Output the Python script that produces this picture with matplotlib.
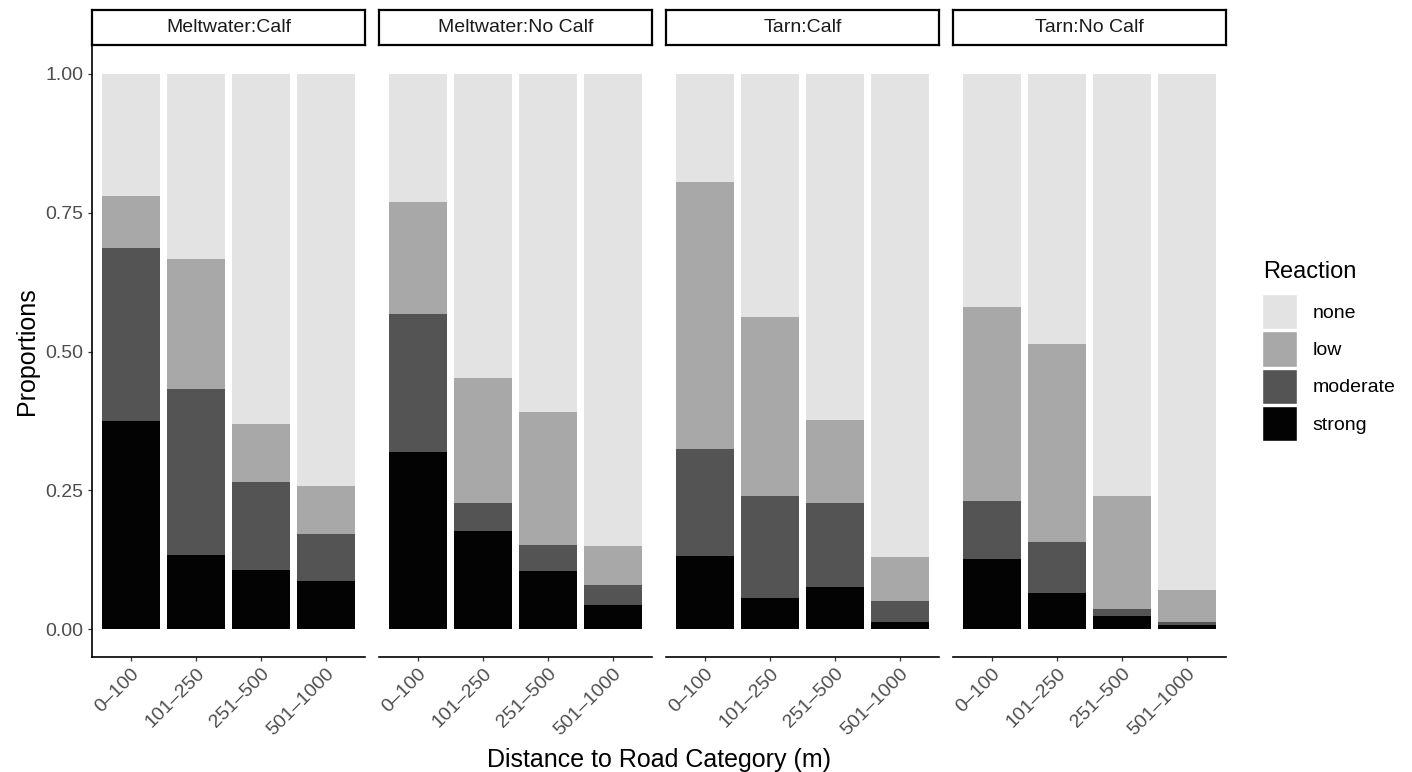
import matplotlib.pyplot as plt
from matplotlib.patches import Patch

plt.rcParams['font.family'] = ['Liberation Sans', 'DejaVu Sans']

# Data
panels = ['Meltwater:Calf', 'Meltwater:No Calf', 'Tarn:Calf', 'Tarn:No Calf']
distance = ['0–100', '101–250', '251–500', '501–1000']
levels = ['strong', 'moderate', 'low', 'none']

strong = [[0.375, 0.133, 0.106, 0.086],
          [0.319, 0.176, 0.105, 0.044],
          [0.132, 0.056, 0.075, 0.013],
          [0.127, 0.064, 0.024, 0.008]]
moderate = [[0.312, 0.300, 0.158, 0.085],
            [0.249, 0.051, 0.047, 0.035],
            [0.193, 0.184, 0.152, 0.038],
            [0.103, 0.092, 0.012, 0.0055]]
low = [[0.094, 0.233, 0.105, 0.086],
       [0.202, 0.226, 0.239, 0.071],
       [0.481, 0.323, 0.150, 0.078],
       [0.350, 0.358, 0.204, 0.0575]]
none = [[0.219, 0.334, 0.631, 0.743],
        [0.230, 0.547, 0.609, 0.850],
        [0.194, 0.437, 0.623, 0.871],
        [0.420, 0.486, 0.760, 0.929]]

colors = {'strong': '#030303', 'moderate': '#545454', 'low': '#a8a8a8', 'none': '#e3e3e3'}
series = {'strong': strong, 'moderate': moderate, 'low': low, 'none': none}

W, H = 1412, 772
fig = plt.figure(figsize=(W / 100, H / 100), dpi=100)

left0, pw, gap = 92, 273, 14
ax_top, ax_bot = 46.25, 656.75
strip_top, strip_bot = 10, 45

x = list(range(1, len(distance) + 1))
for i, name in enumerate(panels):
    left = left0 + i * (pw + gap)
    ax = fig.add_axes([left / W, 1 - ax_bot / H, pw / W, (ax_bot - ax_top) / H])
    bottom = [0.0] * len(distance)
    for lev in levels:
        vals = series[lev][i]
        ax.bar(x, vals, width=0.9, bottom=bottom, color=colors[lev], linewidth=0)
        bottom = [b + v for b, v in zip(bottom, vals)]
    ax.set_xlim(0.4, 4.6)
    ax.set_ylim(-0.05, 1.05)
    ax.set_xticks(x)
    ax.set_xticklabels(distance, rotation=45, ha='right', rotation_mode='anchor',
                       fontsize=14, color='#4d4d4d')
    for s in ['top', 'right']:
        ax.spines[s].set_visible(False)
    ax.spines['bottom'].set_linewidth(1.2)
    ax.tick_params(axis='x', length=3, width=0.9, color='#333333', pad=3)
    if i == 0:
        ax.spines['left'].set_linewidth(1.2)
        ax.set_yticks([0, 0.25, 0.5, 0.75, 1.0])
        ax.set_yticklabels(['0.00', '0.25', '0.50', '0.75', '1.00'], fontsize=14, color='#4d4d4d')
        ax.tick_params(axis='y', length=3, width=0.9, color='#333333', pad=3)
        ax.set_ylabel('Proportions', fontsize=18, labelpad=5)
    else:
        ax.spines['left'].set_visible(False)
        ax.set_yticks([])

    # facet strip
    sax = fig.add_axes([left / W, 1 - strip_bot / H, pw / W, (strip_bot - strip_top) / H])
    sax.set_xticks([])
    sax.set_yticks([])
    for s in sax.spines.values():
        s.set_linewidth(1.6)
        s.set_color('black')
    sax.text(0.5, 0.5, name, ha='center', va='center', fontsize=14, color='#1a1a1a',
             transform=sax.transAxes)

fig.text((left0 + (4 * pw + 3 * gap) / 2) / W, 1 - 760 / H, 'Distance to Road Category (m)',
         ha='center', va='center', fontsize=18)

# legend: title placed separately, keys below
fig.text(1263 / W, 1 - 272 / H, 'Reaction', ha='left', va='center', fontsize=17)
handles = [Patch(facecolor=colors[l], edgecolor='white', linewidth=1) for l in ['none', 'low', 'moderate', 'strong']]
fig.legend(handles, ['none', 'low', 'moderate', 'strong'], loc='upper left',
           bbox_to_anchor=(1262 / W, 1 - 294 / H), frameon=False, fontsize=14,
           handlelength=1.8, handleheight=2.4, labelspacing=0.12,
           handletextpad=0.8, borderpad=0, borderaxespad=0)

fig.savefig('out.png', dpi=100)
